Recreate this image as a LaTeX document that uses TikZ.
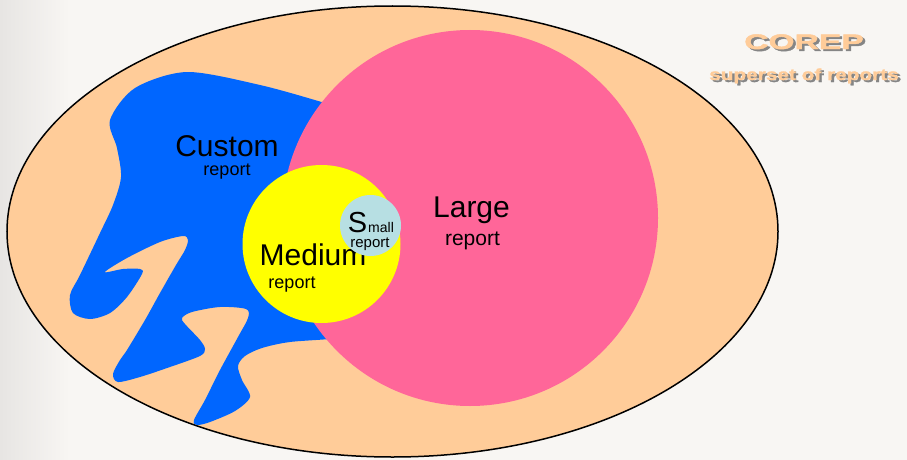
\documentclass[tikz,border=0pt]{standalone}
\usepackage{fontspec}
\setmainfont{Liberation Sans}
\newfontfamily\corepfont[FakeBold=2, FakeStretch=1.6]{Liberation Sans Bold}
\newfontfamily\supfont[FakeBold=1.6, FakeStretch=1.3]{Liberation Sans Bold}
\definecolor{bgc}{HTML}{F8F6F3}
\definecolor{bgl}{HTML}{E7E5E3}
\definecolor{peach}{HTML}{FFCC99}
\definecolor{cblue}{HTML}{0066FF}
\definecolor{cpink}{HTML}{FF6699}
\definecolor{cyel}{HTML}{FFFF00}
\definecolor{csmall}{HTML}{B7DFE3}
\definecolor{shad}{HTML}{858585}
\tikzset{
  big/.style={anchor=base, font=\fontsize{30}{30}\selectfont},
  sml/.style={anchor=base, font=\fontsize{18}{18}\selectfont},
  corepstyle/.style={anchor=base, font=\corepfont\fontsize{21}{21}\selectfont},
  supstyle/.style={anchor=base, font=\supfont\fontsize{16}{16}\selectfont},
}
\begin{document}
\begin{tikzpicture}[x=1pt,y=-1pt]
\useasboundingbox (0,0) rectangle (907,460);
\fill[bgc] (0,0) rectangle (907,460);
\shade[left color=bgl, right color=bgc] (0,0) rectangle (70,460);
% universe ellipse
\filldraw[fill=peach, draw=black, line width=1.5pt] (392.5,231.5) ellipse [x radius=385.5, y radius=225.5];
% custom blob
\fill[cblue] plot[smooth cycle, tension=0.5] coordinates {
 (110,120) (135,88) (187,72) (260,85) (325,103) (380,120) (400,250) (380,330) (340,338)
 (290,342) (262,348) (245,356) (238,366) (242,380) (250,397) (235,411) (210,422) (197,425)
 (194,420) (205,400) (220,370) (238,337) (248,318) (246,309) (220,307) (192,312) (182,318)
 (185,324) (200,340) (205,349) (200,356) (170,367) (140,377) (118,382) (113,374) (120,360)
 (127,350) (145,320) (160,293) (176,265) (185,250) (188,240) (183,236) (160,242) (127,258)
 (105,272) (123,269) (140,269) (142,274) (127,297) (110,313) (90,319) (73,313) (70,295)
 (80,275) (100,233) (113,205) (121,177) (117,148)};
% large
\fill[cpink] (470,218) circle [radius=188];
% medium
\fill[cyel] (321.5,244) circle [radius=79];
\node[big] (medium) at (313,265) {Medium};
\node[sml] (mediumr) at (292,288) {report};
% small
\fill[csmall] (370.5,225.5) circle [radius=30.5];
\node[anchor=base, inner sep=0pt, font=\fontsize{29}{29}\selectfont] (smallS) at (357.5,232) {S};
\node[anchor=base west, inner sep=0pt, font=\fontsize{14}{14}\selectfont] (smallm) at (368,232) {mall};
\node[anchor=base, inner sep=0pt, font=\fontsize{15}{15}\selectfont] (smallr) at (370,247.5) {report};
% labels
\node[big] (custom) at (227,156) {Custom};
\node[sml] (customr) at (227,175) {report};
\node[big] (large) at (471.5,217) {Large};
\node[anchor=base, font=\fontsize{21}{21}\selectfont] (larger) at (472.5,245) {report};
% COREP title
\node[corepstyle, text=shad] (corepsh) at (806.5,51) {COREP};
\node[corepstyle, text=peach] (corep) at (804,49) {COREP};
\node[supstyle, text=shad] (supsh) at (806.5,82) {superset of reports};
\node[supstyle, text=peach] (sup) at (804,80) {superset of reports};
\end{tikzpicture}
\end{document}
